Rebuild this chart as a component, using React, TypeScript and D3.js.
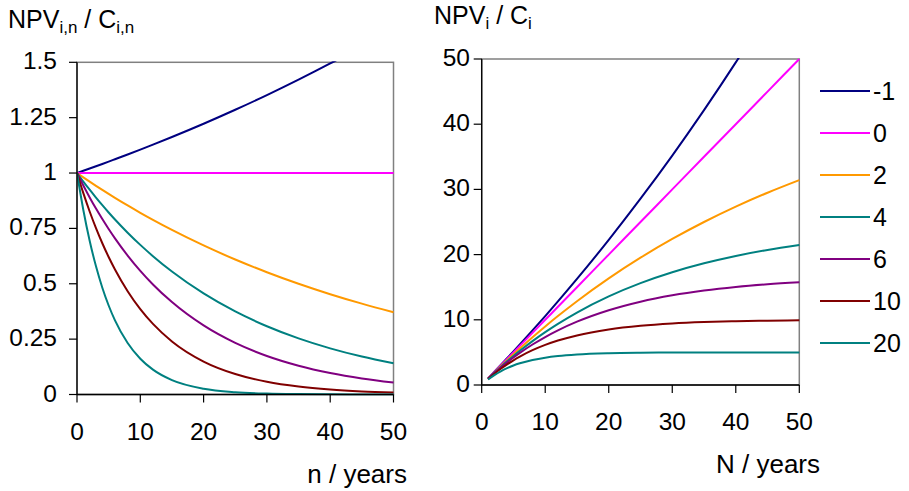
import React from "react";
import * as d3 from "d3";

// rates in %
const rates = ["-1", "0", "2", "4", "6", "10", "20"];
const colors = ["#000080", "#FF00FF", "#FF9900", "#008080", "#800080", "#800000", "#008080"];

// left panel: n years
const nYears = [0, 1, 2, 3, 4, 5, 6, 8, 10, 12, 15, 20, 25, 30, 35, 40, 45, 50];
const leftM1 = [1, 1.0101, 1.0203, 1.0306, 1.041, 1.0515, 1.0622, 1.0837, 1.1057, 1.1282, 1.1627, 1.2226, 1.2856, 1.3518, 1.4215, 1.4947, 1.5717, 1.6527];
const left0 = [1, 1, 1, 1, 1, 1, 1, 1, 1, 1, 1, 1, 1, 1, 1, 1, 1, 1];
const left2 = [1, 0.9804, 0.9612, 0.9423, 0.9238, 0.9057, 0.888, 0.8535, 0.8203, 0.7885, 0.743, 0.673, 0.6095, 0.5521, 0.5, 0.4529, 0.4102, 0.3715];
const left4 = [1, 0.9615, 0.9246, 0.889, 0.8548, 0.8219, 0.7903, 0.7307, 0.6756, 0.6246, 0.5553, 0.4564, 0.3751, 0.3083, 0.2534, 0.2083, 0.1712, 0.1407];
const left6 = [1, 0.9434, 0.89, 0.8396, 0.7921, 0.7473, 0.705, 0.6274, 0.5584, 0.497, 0.4173, 0.3118, 0.233, 0.1741, 0.1301, 0.0972, 0.0727, 0.0543];
const left10 = [1, 0.9091, 0.8264, 0.7513, 0.683, 0.6209, 0.5645, 0.4665, 0.3855, 0.3186, 0.2394, 0.1486, 0.0923, 0.0573, 0.0356, 0.0221, 0.0137, 0.0085];
const left20 = [1, 0.8333, 0.6944, 0.5787, 0.4823, 0.4019, 0.3349, 0.2326, 0.1615, 0.1122, 0.0649, 0.0261, 0.0105, 0.0042, 0.0017, 0.0007, 0.0003, 0.0001];

// right panel: N years
const NYears = [1, 2, 3, 4, 5, 6, 8, 10, 12, 15, 20, 25, 30, 35, 40, 45, 50];
const rightM1 = [1.0101, 2.0304, 3.061, 4.102, 5.1535, 6.216, 8.37, 10.57, 12.82, 16.27, 22.26, 28.57, 35.19, 42.16, 49.48, 57.19, 65.28];
const right0 = [1, 2, 3, 4, 5, 6, 8, 10, 12, 15, 20, 25, 30, 35, 40, 45, 50];
const right2 = [0.9804, 1.9416, 2.8839, 3.8077, 4.7135, 5.6014, 7.3255, 8.9826, 10.5753, 12.8493, 16.3514, 19.5235, 22.3965, 24.9986, 27.3555, 29.4902, 31.4236];
const right4 = [0.9615, 1.8861, 2.7751, 3.6299, 4.4518, 5.2421, 6.7327, 8.1109, 9.3851, 11.1184, 13.5903, 15.6221, 17.292, 18.6646, 19.7928, 20.72, 21.4822];
const right6 = [0.9434, 1.8334, 2.673, 3.4651, 4.2124, 4.9173, 6.2098, 7.3601, 8.3838, 9.7122, 11.4699, 12.7834, 13.7648, 14.4982, 15.0463, 15.4558, 15.7619];
const right10 = [0.9091, 1.7355, 2.4869, 3.1699, 3.7908, 4.3553, 5.3349, 6.1446, 6.8137, 7.6061, 8.5136, 9.077, 9.4269, 9.6442, 9.7791, 9.8628, 9.9148];
const right20 = [0.8333, 1.5278, 2.1065, 2.5887, 2.9906, 3.3255, 3.8372, 4.1925, 4.4392, 4.6755, 4.8696, 4.9476, 4.9789, 4.9915, 4.9966, 4.9986, 4.9995];

const leftSeries = [leftM1, left0, left2, left4, left6, left10, left20];
const rightSeries = [rightM1, right0, right2, right4, right6, right10, right20];

const xTicks = [0, 10, 20, 30, 40, 50];
const leftYTicks = [0, 0.25, 0.5, 0.75, 1, 1.25, 1.5];
const leftYLabels = ["0", "0.25", "0.5", "0.75", "1", "1.25", "1.5"];
const rightYTicks = [0, 10, 20, 30, 40, 50];

const FONT = "Arial, 'Liberation Sans', Helvetica, sans-serif";
const TICK_FS = 24.5;

type PanelProps = {
  id: string;
  xs: number[];
  series: number[][];
  x0: number; x1: number; y0: number; y1: number;
  yMax: number;
  yTicks: number[];
  yLabels: string[];
  xLabelY: number;
  yLabelX: number;
};

function Panel(p: PanelProps) {
  const x = d3.scaleLinear().domain([0, 50]).range([p.x0, p.x1]);
  const y = d3.scaleLinear().domain([0, p.yMax]).range([p.y1, p.y0]);
  const line = d3
    .line<number>()
    .x((_, i) => x(p.xs[i]))
    .y((d) => y(d))
    .curve(d3.curveMonotoneX);
  return (
    <g>
      <defs>
        <clipPath id={p.id}>
          <rect x={p.x0} y={p.y0 - 1} width={p.x1 - p.x0 + 1} height={p.y1 - p.y0 + 2} />
        </clipPath>
      </defs>
      <rect x={p.x0} y={p.y0} width={p.x1 - p.x0} height={p.y1 - p.y0} fill="#fff" stroke="#808080" strokeWidth={1.5} />
      <g clipPath={`url(#${p.id})`}>
        {p.series.map((s, k) => (
          <path key={k} d={line(s) || ""} fill="none" stroke={colors[k]} strokeWidth={2} />
        ))}
      </g>
      <line x1={p.x0} x2={p.x0} y1={p.y0} y2={p.y1} stroke="#000" strokeWidth={1.3} />
      <line x1={p.x0} x2={p.x1} y1={p.y1} y2={p.y1} stroke="#000" strokeWidth={1.3} />
      {p.yTicks.map((t, i) => (
        <g key={"y" + i}>
          <line x1={p.x0 - 8} x2={p.x0} y1={y(t)} y2={y(t)} stroke="#000" strokeWidth={1.2} />
          <text x={p.yLabelX} y={y(t) + 7} textAnchor="end" fontSize={TICK_FS} fontFamily={FONT} fill="#000">
            {p.yLabels[i]}
          </text>
        </g>
      ))}
      {xTicks.map((t) => (
        <g key={"x" + t}>
          <line x1={x(t)} x2={x(t)} y1={p.y1} y2={p.y1 + 8} stroke="#000" strokeWidth={1.2} />
          <text x={x(t)} y={p.xLabelY} textAnchor="middle" fontSize={TICK_FS} fontFamily={FONT} fill="#000">
            {t}
          </text>
        </g>
      ))}
    </g>
  );
}

export default function App() {
  return (
    <svg width={909} height={491} style={{ position: "absolute", left: 0, top: 0, background: "#fff" }}>
      <rect width={909} height={491} fill="#fff" />
      <Panel
        id="clipL"
        xs={nYears}
        series={leftSeries}
        x0={77}
        x1={393.5}
        y0={62.3}
        y1={394.5}
        yMax={1.5}
        yTicks={leftYTicks}
        yLabels={leftYLabels}
        xLabelY={440}
        yLabelX={57}
      />
      <Panel
        id="clipR"
        xs={NYears}
        series={rightSeries}
        x0={481.7}
        x1={799.3}
        y0={59}
        y1={385}
        yMax={50}
        yTicks={rightYTicks}
        yLabels={rightYTicks.map(String)}
        xLabelY={430}
        yLabelX={470}
      />
      <text x={8} y={28} fontSize={25} fontFamily={FONT} fill="#000">
        NPV<tspan fontSize={17} dy={5}>i,n</tspan>
        <tspan dy={-5}> / C</tspan>
        <tspan fontSize={17} dy={5}>i,n</tspan>
      </text>
      <text x={434} y={24} fontSize={25} fontFamily={FONT} fill="#000">
        NPV<tspan fontSize={17} dy={5}>i</tspan>
        <tspan dy={-5}> / C</tspan>
        <tspan fontSize={17} dy={5}>i</tspan>
      </text>
      <text x={407} y={483} textAnchor="end" fontSize={26} fontFamily={FONT} fill="#000">
        n / years
      </text>
      <text x={820} y={473} textAnchor="end" fontSize={26} fontFamily={FONT} fill="#000">
        N / years
      </text>
      {rates.map((r, k) => (
        <g key={r}>
          <line x1={820} x2={870} y1={91 + k * 42} y2={91 + k * 42} stroke={colors[k]} strokeWidth={2} />
          <text x={873} y={91 + k * 42 + 8.5} fontSize={25} fontFamily={FONT} fill="#000">
            {r}
          </text>
        </g>
      ))}
    </svg>
  );
}
